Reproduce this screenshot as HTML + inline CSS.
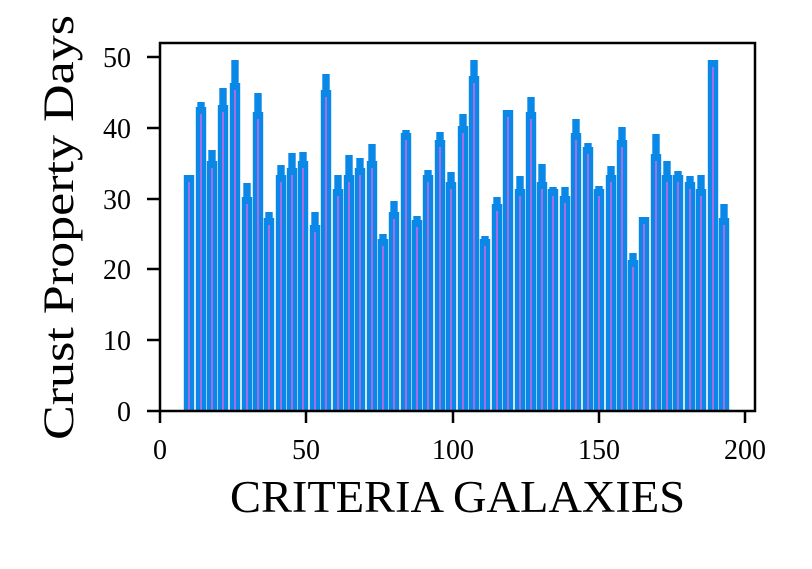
<!DOCTYPE html>
<html><head><meta charset="utf-8"><style>
body{margin:0;background:#fff;}
svg text{font-family:"Liberation Serif","DejaVu Serif",serif;fill:#000;}
</style></head><body>
<svg id="s" width="812" height="564" viewBox="0 0 812 564" xmlns="http://www.w3.org/2000/svg">
<rect width="812" height="564" fill="#fff"/>
<g id="bars"></g>
<rect x="160" y="43" width="595" height="368" fill="none" stroke="#000" stroke-width="2.5"/>
<g stroke="#000" stroke-width="2.5">
<line x1="160" y1="411" x2="160" y2="423"/><line x1="306" y1="411" x2="306" y2="423"/><line x1="453" y1="411" x2="453" y2="423"/><line x1="599" y1="411" x2="599" y2="423"/><line x1="745" y1="411" x2="745" y2="423"/>
<line x1="147" y1="411" x2="160" y2="411"/><line x1="147" y1="340" x2="160" y2="340"/><line x1="147" y1="269" x2="160" y2="269"/><line x1="147" y1="199" x2="160" y2="199"/><line x1="147" y1="128" x2="160" y2="128"/><line x1="147" y1="57" x2="160" y2="57"/>
</g>
<g font-size="28" text-anchor="middle">
<text x="160" y="459">0</text><text x="306" y="459">50</text><text x="453" y="459">100</text><text x="599" y="459">150</text><text x="745" y="459">200</text>
</g>
<g font-size="28" text-anchor="end">
<text x="131" y="421">0</text><text x="131" y="350">10</text><text x="131" y="279">20</text><text x="131" y="209">30</text><text x="131" y="138">40</text><text x="131" y="67">50</text>
</g>
<text x="230" y="512" font-size="45" textLength="455" lengthAdjust="spacingAndGlyphs">CRITERIA GALAXIES</text>
<text transform="translate(73,440) rotate(-90)" font-size="43" textLength="425" lengthAdjust="spacingAndGlyphs">Crust Property Days</text>
</svg>
<script>
var d=[[189,175,175],[201,102,107],[212,150,161],[223,88,105],[235,60,83],[247,183,197],[258,93,112],[269,212,218],[281,165,175],[292,153,168],[303,152,161],[315,212,225],[326,74,90],[338,175,189],[349,155,175],[360,158,168],[372,144,161],[383,234,239],[394,201,212],[406,130,133],[417,216,220],[428,170,175],[440,132,140],[451,172,182],[463,114,126],[474,60,76],[485,236,239],[497,197,204],[508,110,110],[520,176,189],[531,97,112],[542,164,182],[553,187,189],[565,187,196],[576,119,133],[588,143,147],[599,186,189],[611,166,175],[622,127,140],[633,253,260],[644,217,217],[656,134,154],[667,161,175],[678,171,175],[690,176,182],[701,175,189],[713,60,60],[724,204,218]];
var h='';
d.forEach(function(c){var x=c[0];
h+='<rect x="'+(x-3.7)+'" y="'+c[1]+'" width="7.4" height="'+(411-c[1])+'" fill="#0a88e8"/>';
h+='<rect x="'+(x-5.2)+'" y="'+c[2]+'" width="10.4" height="'+(411-c[2])+'" fill="#0a88e8"/>';});
d.forEach(function(c){var x=c[0];var p=c[2]+7;
h+='<rect x="'+(x-1)+'" y="'+p+'" width="2" height="'+(411-p)+'" fill="#a66ee6"/>';});
document.getElementById('bars').innerHTML=h;
</script>
</body></html>
